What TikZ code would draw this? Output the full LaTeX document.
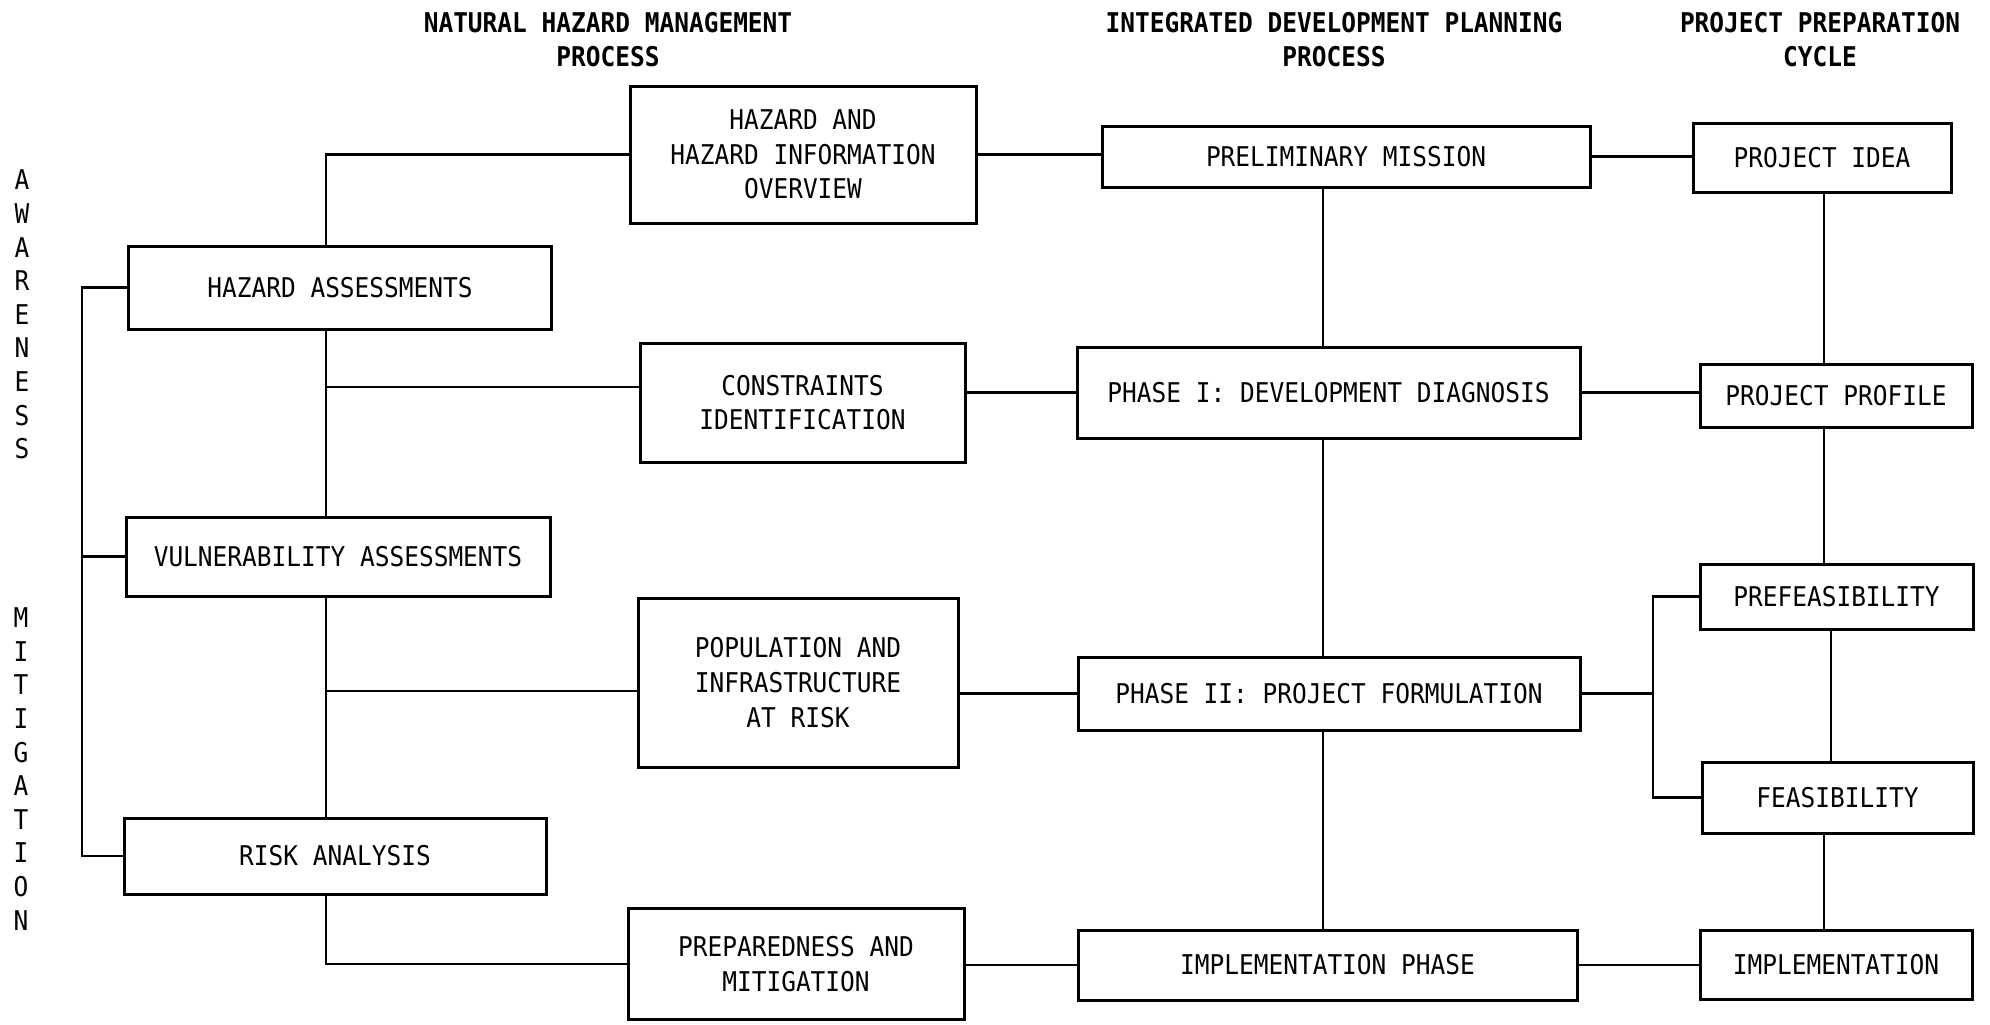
\documentclass[tikz,border=0pt]{standalone}
\usepackage{fontspec}
\setmonofont[FakeStretch=0.9]{DejaVu Sans Mono}
\usetikzlibrary{positioning}

\tikzset{
  hzbox/.style 2 args={draw, line width=1.5pt, inner sep=0pt, align=center,
    minimum width=#1*0.5pt, minimum height=#2*0.5pt},
  link/.style={line width=1.4pt},
  hdr/.style={align=center, font=\ttfamily\bfseries\fontsize{13.6}{17}\selectfont},
  side/.style={align=center, font=\ttfamily\fontsize{13.6}{16.8}\selectfont},
}

\begin{document}
\begin{tikzpicture}[x=0.5pt, y=-0.5pt, font=\ttfamily\fontsize{13.6}{17.3}\selectfont]
  \path[use as bounding box, fill=white] (0,0) rectangle (1990,1024);

  % column titles
  \node[hdr] (t1) at (608,40) {NATURAL HAZARD MANAGEMENT\\PROCESS};
  \node[hdr] (t2) at (1334,40) {INTEGRATED DEVELOPMENT PLANNING\\PROCESS};
  \node[hdr] (t3) at (1820,40) {PROJECT PREPARATION\\CYCLE};

  % side labels
  \node[side] (aw) at (22,314.5) {A\\W\\A\\R\\E\\N\\E\\S\\S};
  \node[side] (mi) at (21,769) {M\\I\\T\\I\\G\\A\\T\\I\\O\\N};

  % natural hazard management
  \node[hzbox={423}{83}] (ha) at (340,287.5) {HAZARD ASSESSMENTS};
  \node[hzbox={424}{79}] (vu) at (338,556.5) {VULNERABILITY ASSESSMENTS};
  \node[hzbox={422}{76}] (ra) at (335,856) {RISK ANALYSIS};
  \node[hzbox={346}{137}] (hi) at (803,154.5) {HAZARD AND\\HAZARD INFORMATION\\OVERVIEW};
  \node[hzbox={325}{119}] (ci) at (802.5,402.5) {CONSTRAINTS\\IDENTIFICATION};
  \node[hzbox={320}{169}] (pi) at (798,682.5) {POPULATION AND\\INFRASTRUCTURE\\AT RISK};
  \node[hzbox={336}{111}] (pm) at (796,964) {PREPAREDNESS AND\\MITIGATION};

  % integrated development planning
  \node[hzbox={488}{61}] (mis) at (1346,156.5) {PRELIMINARY MISSION};
  \node[hzbox={503}{91}] (ph1) at (1328.5,392.5) {PHASE I: DEVELOPMENT DIAGNOSIS};
  \node[hzbox={502}{73}] (ph2) at (1329,693.5) {PHASE II: PROJECT FORMULATION};
  \node[hzbox={499}{70}] (iph) at (1327.5,965) {IMPLEMENTATION PHASE};

  % project preparation cycle
  \node[hzbox={258}{69}] (idea) at (1822,157.5) {PROJECT IDEA};
  \node[hzbox={272}{63}] (prof) at (1836,395.5) {PROJECT PROFILE};
  \node[hzbox={273}{65}] (pref) at (1836.5,596.5) {PREFEASIBILITY};
  \node[hzbox={271}{71}] (feas) at (1837.5,797.5) {FEASIBILITY};
  \node[hzbox={272}{69}] (impl) at (1836,964.5) {IMPLEMENTATION};

  \coordinate (sl) at (326,0);
  \coordinate (sm) at (1323,0);
  \coordinate (sr) at (1824,0);
  \coordinate (sq) at (1831,0);
  \coordinate (lb) at (82,0);
  \coordinate (rb) at (1653,0);
  \coordinate (j1) at (326,387);
  \coordinate (j2) at (326,691);

  % left column links
  \draw[link] (ha.north -| sl) |- (hi.west);
  \draw[link] (ha.south -| sl) -- (vu.north -| sl);
  \draw[link] (vu.south -| sl) -- (ra.north -| sl);
  \draw[link] (ra.south -| sl) |- (pm.west);
  \draw[link] (j1) -- (j1 -| ci.west);
  \draw[link] (j2) -- (j2 -| pi.west);
  \draw[link] (ha.west) -| (lb |- ra.west) -- (ra.west);
  \draw[link] (vu.west) -- (vu.west -| lb);

  % across to planning
  \draw[link] (hi.east) -- (hi.east -| mis.west);
  \draw[link] (ph1.west -| ci.east) -- (ph1.west);
  \draw[link] (ph2.west -| pi.east) -- (ph2.west);
  \draw[link] (iph.west -| pm.east) -- (iph.west);
  \draw[link] (mis.south -| sm) -- (ph1.north -| sm);
  \draw[link] (ph1.south -| sm) -- (ph2.north -| sm);
  \draw[link] (ph2.south -| sm) -- (iph.north -| sm);

  % across to project cycle
  \draw[link] (mis.east) -- (mis.east -| idea.west);
  \draw[link] (ph1.east) -- (ph1.east -| prof.west);
  \draw[link] (iph.east) -- (iph.east -| impl.west);
  \draw[link] (ph2.east) -- (ph2.east -| rb);
  \draw[link] (pref.west) -| (rb |- feas.west) -- (feas.west);
  \draw[link] (idea.south -| sr) -- (prof.north -| sr);
  \draw[link] (prof.south -| sr) -- (pref.north -| sr);
  \draw[link] (pref.south -| sq) -- (feas.north -| sq);
  \draw[link] (feas.south -| sr) -- (impl.north -| sr);
\end{tikzpicture}
\end{document}
